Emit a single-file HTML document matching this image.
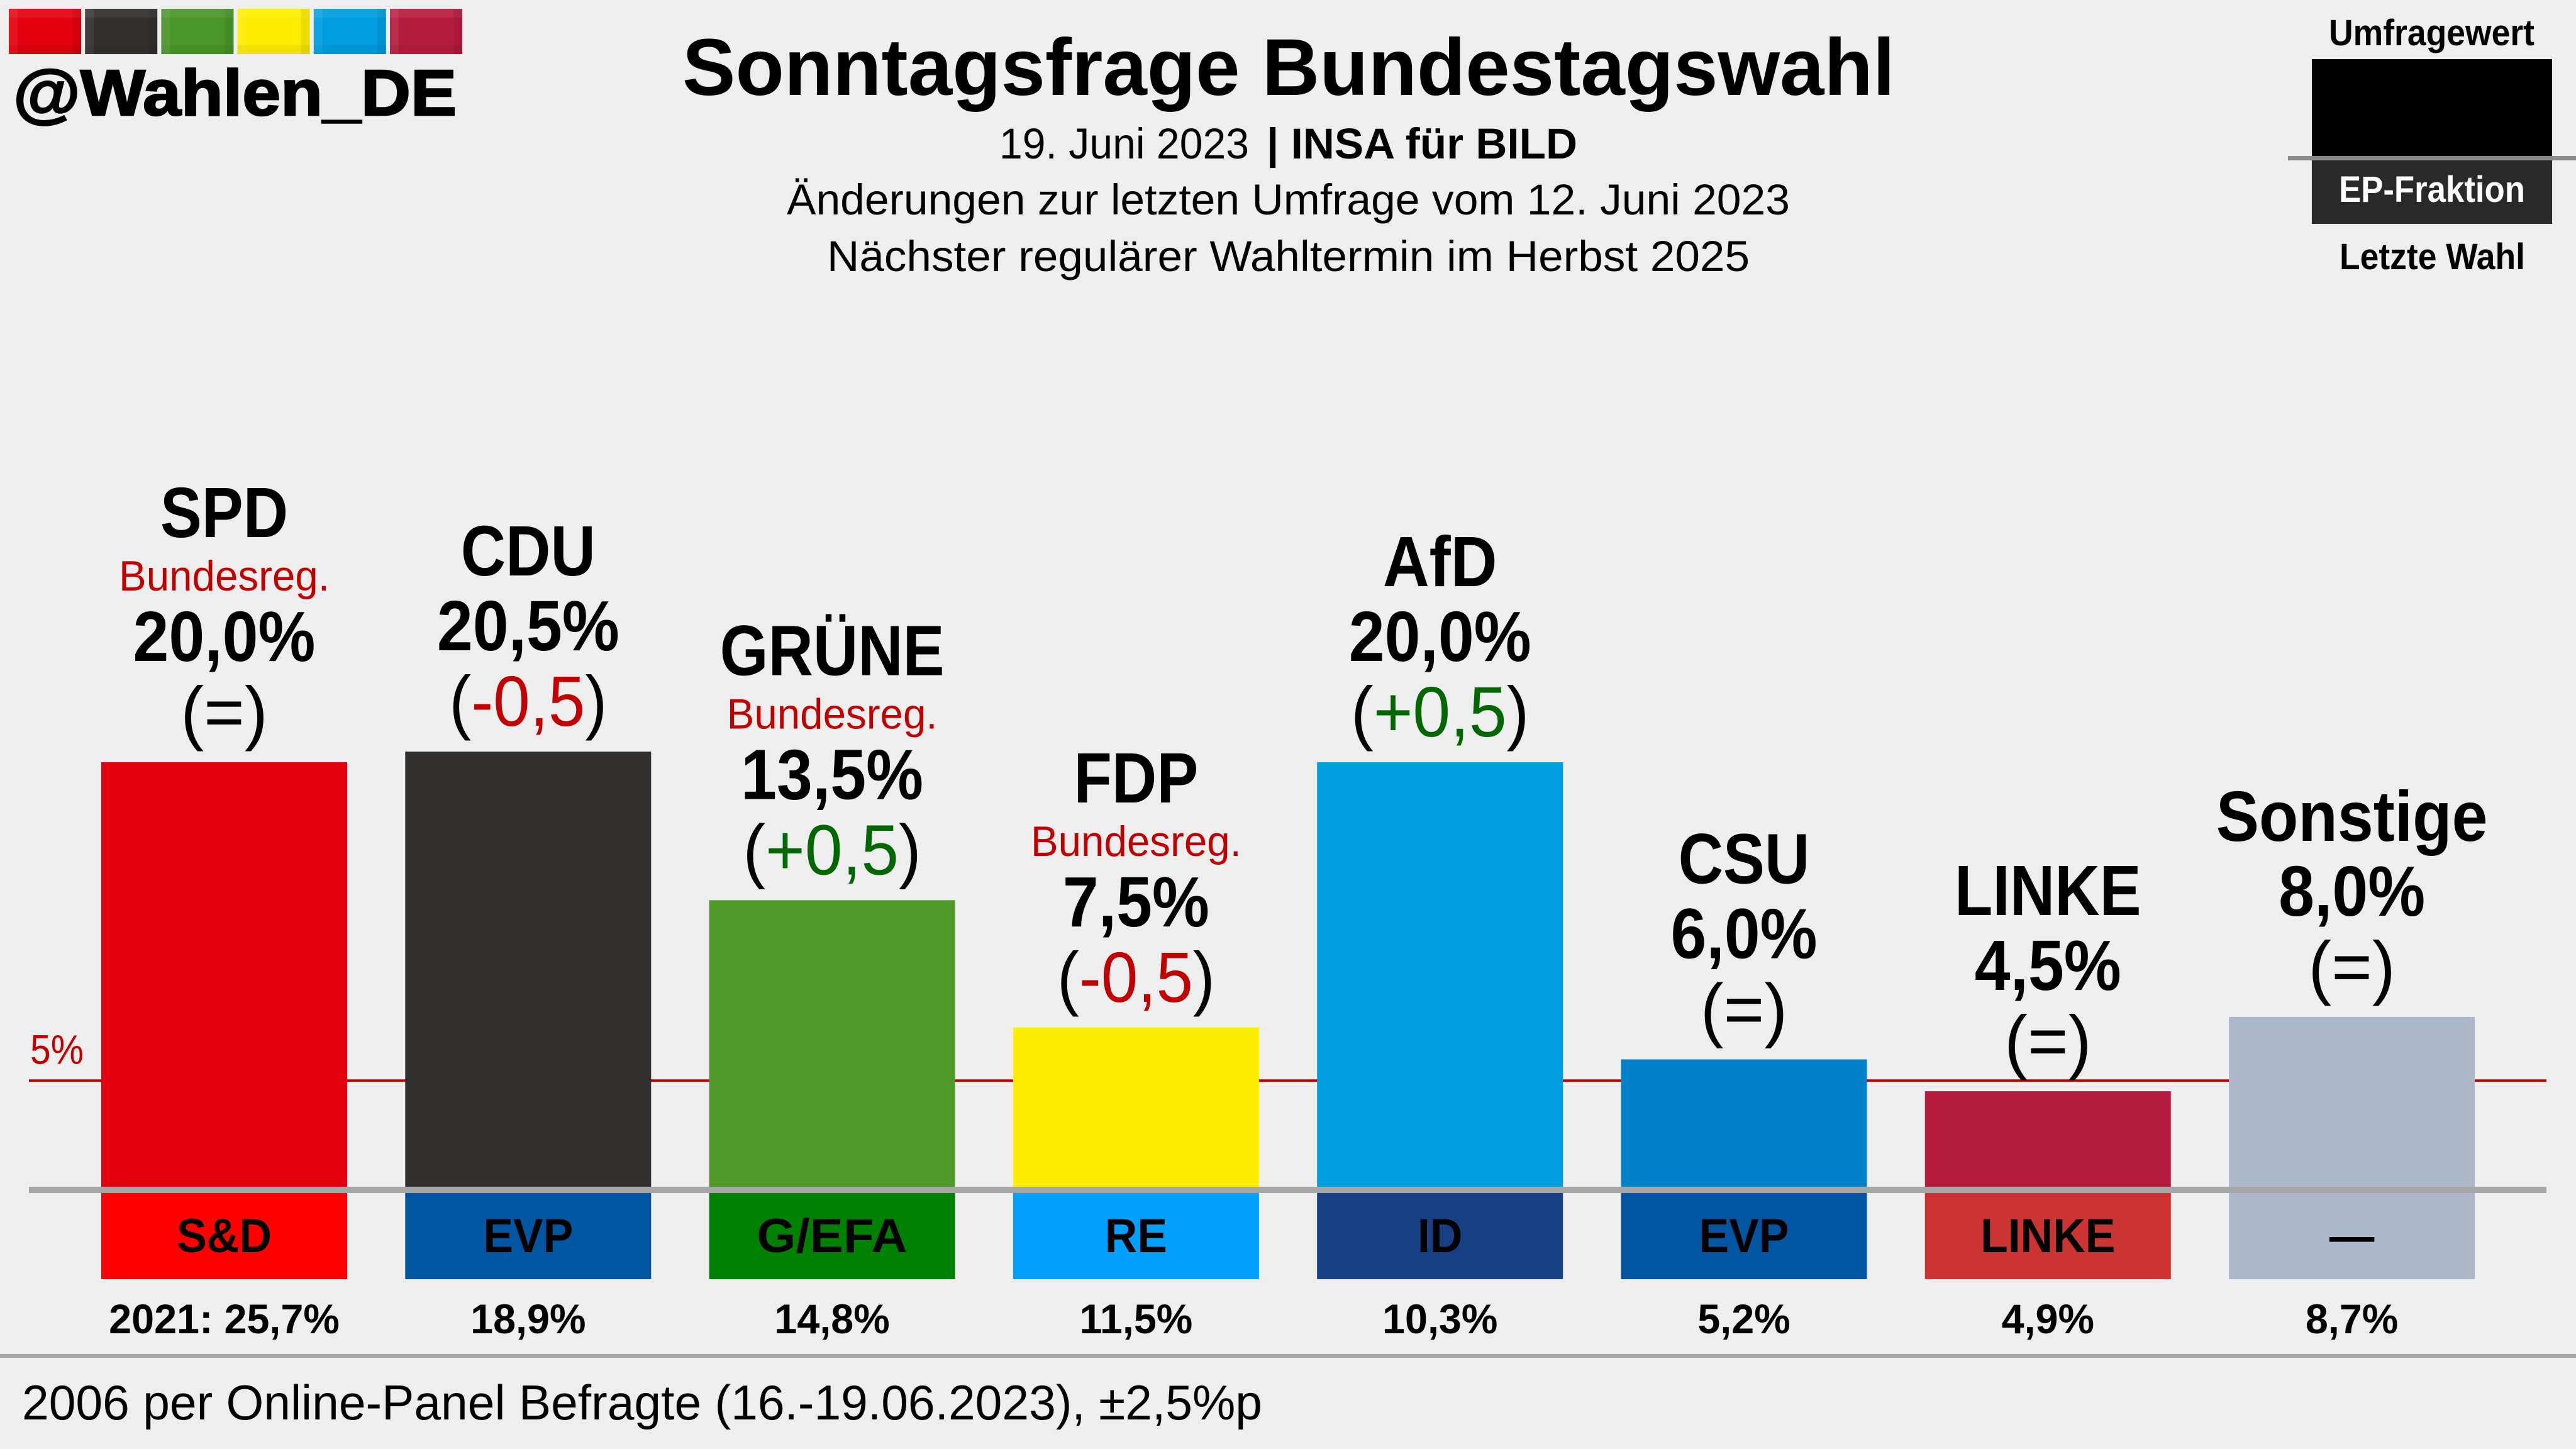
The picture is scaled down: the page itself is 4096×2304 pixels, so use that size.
<!DOCTYPE html>
<html lang="de">
<head>
<meta charset="utf-8">
<title>Sonntagsfrage Bundestagswahl</title>
<style>
html,body{margin:0;padding:0;background:#eeeeee;}
svg{display:block;}
text{font-family:"Liberation Sans",sans-serif;}
.b{font-weight:700;}
</style>
</head>
<body>
<svg id="chart" xmlns="http://www.w3.org/2000/svg" width="4096" height="2304" viewBox="0 0 4096 2304">
  <rect x="0" y="0" width="4096" height="2304" fill="#eeeeee"/>
  <g id="logo"></g>
  <text class="b" x="21" y="183" font-size="103" stroke="#000000" stroke-width="2.5" textLength="705" lengthAdjust="spacingAndGlyphs">@Wahlen_DE</text>

  <text class="b" x="1085" y="151" font-size="128" textLength="1928" lengthAdjust="spacingAndGlyphs">Sonntagsfrage Bundestagswahl</text>
  <text x="1589" y="252" font-size="69" textLength="397" lengthAdjust="spacingAndGlyphs">19. Juni 2023</text>
  <text class="b" x="2014" y="252" font-size="69" textLength="494" lengthAdjust="spacingAndGlyphs">| INSA für BILD</text>
  <text x="1251" y="341" font-size="69" textLength="1595" lengthAdjust="spacingAndGlyphs">Änderungen zur letzten Umfrage vom 12. Juni 2023</text>
  <text x="1315" y="431" font-size="69" textLength="1467" lengthAdjust="spacingAndGlyphs">Nächster regulärer Wahltermin im Herbst 2025</text>

  <g>
    <text class="b" x="3703" y="72" font-size="58" textLength="327" lengthAdjust="spacingAndGlyphs">Umfragewert</text>
    <rect x="3676" y="94" width="382" height="154" fill="#000000"/>
    <rect x="3676" y="255" width="382" height="101" fill="#292929"/>
    <rect x="3638" y="248" width="458" height="7" fill="#898989"/>
    <text class="b" x="3719" y="321" font-size="58" fill="#ffffff" textLength="296" lengthAdjust="spacingAndGlyphs">EP-Fraktion</text>
    <text class="b" x="3720" y="428" font-size="58" textLength="295" lengthAdjust="spacingAndGlyphs">Letzte Wahl</text>
  </g>

  <g id="threshold"></g>
  <g id="bars"></g>
  <g id="labels"></g>
  <rect x="46" y="1887" width="4003" height="10" fill="#a6a6a6"/>
  <rect x="0" y="2153" width="4096" height="6" fill="#a6a6a6"/>
  <text x="35" y="2257" font-size="78" textLength="1972" lengthAdjust="spacingAndGlyphs">2006 per Online-Panel Befragte (16.-19.06.2023), ±2,5%p</text>
</svg>
<script>
const parties = ['SPD', 'CDU', 'GRÜNE', 'FDP', 'AfD', 'CSU', 'LINKE', 'Sonstige'];
const pollValues = [20.0, 20.5, 13.5, 7.5, 20.0, 6.0, 4.5, 8.0];
const pollChanges = [0, -0.5, 0.5, -0.5, 0.5, 0, 0, 0];
const inGovernment = [true, false, true, true, false, false, false, false];
const epGroups = ['S&D', 'EVP', 'G/EFA', 'RE', 'ID', 'EVP', 'LINKE', '—'];
const lastElection = [25.7, 18.9, 14.8, 11.5, 10.3, 5.2, 4.9, 8.7];
const lastElectionPrefix = '2021: ';
const thresholdValue = 5;
const partyColors = ['#e3000f', '#32302e', '#509a2b', '#ffed00', '#009ee0', '#0080c8', '#b51c3d', '#adb8cb'];
const groupColors = ['#ff0000', '#0255a0', '#008000', '#00a0ff', '#173f84', '#0255a0', '#cc3333', '#adb8cb'];
const logoColors = ['#e3000f', '#32302e', '#4a962a', '#ffed00', '#009ee0', '#b51c3d'];

const NS = 'http://www.w3.org/2000/svg';
const BASE_Y = 1887, PER_POINT = 33.75, BAR_LEFT = 161, BAR_PITCH = 483.3, BAR_W = 391;
const yScale = function (v) { return BASE_Y - v * PER_POINT; };
const xScale = function (i) { return BAR_LEFT + i * BAR_PITCH; };
const fmt = function (v) { return v.toFixed(1).replace('.', ','); };
const slugOf = function (s) { return s.toLowerCase().replace(/[^a-z0-9]+/g, '-'); };

function rect(parent, x, y, w, h, fill, opacity) {
  const r = document.createElementNS(NS, 'rect');
  r.setAttribute('x', x);
  r.setAttribute('y', y);
  r.setAttribute('width', w);
  r.setAttribute('height', h);
  r.setAttribute('fill', fill);
  if (opacity !== undefined) r.setAttribute('fill-opacity', opacity);
  parent.appendChild(r);
  return r;
}
function label(parent, cx, y, size, weight, fill, sx, content) {
  const t = document.createElementNS(NS, 'text');
  t.setAttribute('transform', 'translate(' + cx + ',' + y + ') scale(' + sx + ',1)');
  t.setAttribute('text-anchor', 'middle');
  t.setAttribute('font-size', size);
  t.setAttribute('font-weight', weight);
  t.setAttribute('fill', fill);
  t.textContent = content;
  parent.appendChild(t);
  return t;
}

/* logo squares */
const logoG = document.getElementById('logo');
logoColors.forEach(function (c, i) {
  const x = 14 + i * 121.2;
  const sq = rect(logoG, x, 14, 115, 72, c);
  
  
  const top = rect(logoG, x, 14, 115, 14, '#ffffff', 0.07);
  
  
  const left = rect(logoG, x, 14, 14, 72, '#ffffff', 0.07);
  
  
  const bottom = rect(logoG, x, 72, 115, 14, '#000000', 0.05);
  
  
  const right = rect(logoG, x + 101, 14, 14, 72, '#000000', 0.07);
  
  
});

/* 5% threshold */
const thG = document.getElementById('threshold');
const thLine = rect(thG, 46, yScale(thresholdValue) - 2, 4003, 4, '#c00000');


const thText = label(thG, 90.5, yScale(thresholdValue) - 27, 66, 400, '#c00000', 0.89, thresholdValue + '%');



/* bars and labels */
const barsG = document.getElementById('bars');
const labelsG = document.getElementById('labels');
parties.forEach(function (party, i) {
  const slug = slugOf(party);
  const x = xScale(i);
  const cx = x + BAR_W / 2;
  const top = yScale(pollValues[i]);

  const bar = rect(barsG, x, top, BAR_W, BASE_Y - top, partyColors[i]);
  
  

  const groupBar = rect(barsG, x, 1897, BAR_W, 137, groupColors[i]);
  
  

  const groupScale = epGroups[i].indexOf('/') >= 0 ? 1.05 : 0.94;
  const groupText = label(labelsG, cx, 1991, 76, 700, '#000000', groupScale, epGroups[i]);
  
  

  const prefix = i === 0 ? lastElectionPrefix : '';
  const lastText = label(labelsG, cx, 2120, 66, 700, '#000000', 0.98, prefix + fmt(lastElection[i]) + '%');
  
  

  const nameOffset = inGovernment[i] ? 358 : 280;
  const nameScale = party === party.toUpperCase() ? 0.875 : 0.905;
  const nameText = label(labelsG, cx, top - nameOffset, 113, 700, '#000000', nameScale, party);
  
  

  if (inGovernment[i]) {
    const gov = label(labelsG, cx, top - 273, 68, 400, '#c00000', 0.963, 'Bundesreg.');
    
    
  }

  const valueText = label(labelsG, cx, top - 161, 113, 700, '#000000', 0.905, fmt(pollValues[i]) + '%');
  
  

  const change = pollChanges[i];
  const changeScale = change === 0 ? 0.98 : (change > 0 ? 0.95 : 0.93);
  const changeText = label(labelsG, cx, top - 41, 113, 400, '#000000', changeScale, '');
  
  
  changeText.appendChild(document.createTextNode('('));
  if (change === 0) {
    changeText.appendChild(document.createTextNode('='));
  } else {
    const ts = document.createElementNS(NS, 'tspan');
    ts.setAttribute('fill', change > 0 ? '#006600' : '#c00000');
    ts.textContent = (change > 0 ? '+' : '-') + fmt(Math.abs(change));
    changeText.appendChild(ts);
  }
  changeText.appendChild(document.createTextNode(')'));
});
</script>
</body>
</html>
